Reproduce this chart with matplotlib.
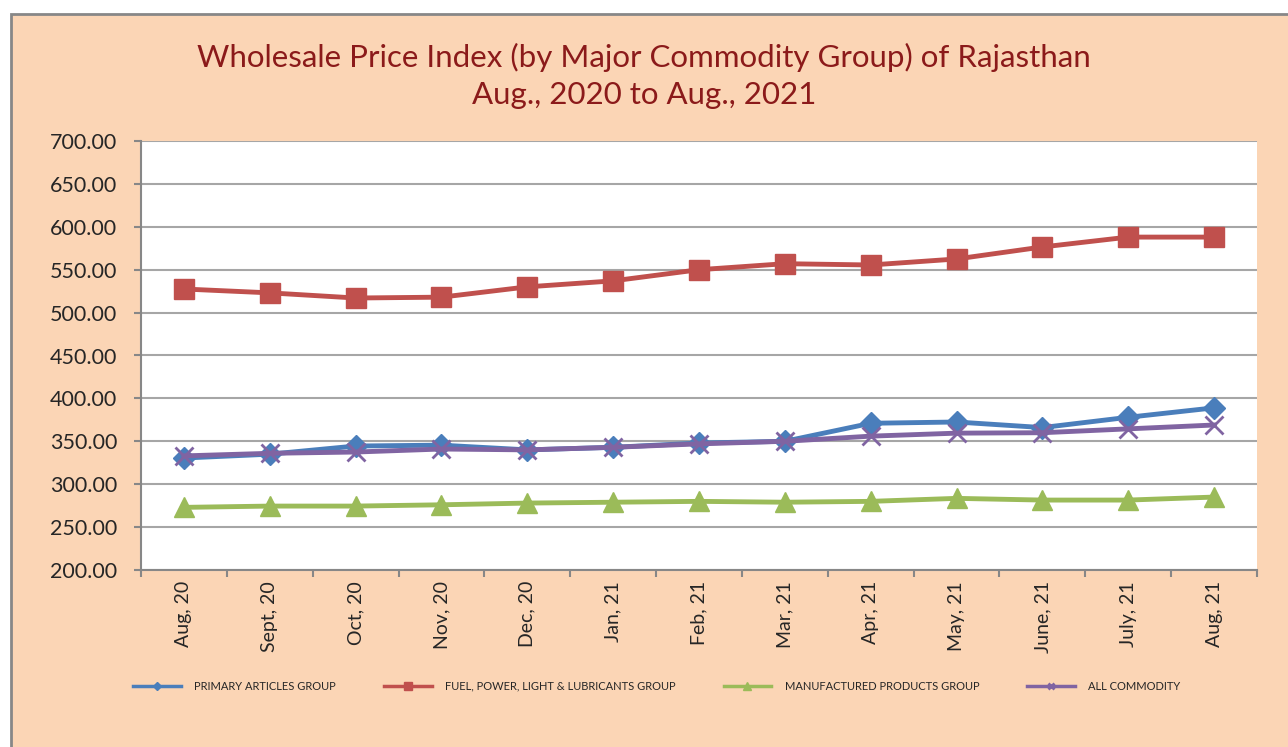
import numpy as np
import matplotlib.pyplot as plt
from matplotlib.patches import Rectangle

months = ['Aug, 20', 'Sept, 20', 'Oct, 20', 'Nov, 20', 'Dec, 20', 'Jan, 21', 'Feb, 21',
          'Mar, 21', 'Apr, 21', 'May, 21', 'June, 21', 'July, 21', 'Aug, 21']
primary = [330.5, 335.0, 344.5, 345.5, 340.0, 343.0, 348.0, 350.0, 371.0, 372.5, 366.0, 378.0, 389.0]
fuel = [527.5, 523.0, 517.0, 518.0, 530.0, 537.0, 550.0, 557.0, 555.5, 562.5, 576.5, 588.0, 588.0]
manufactured = [273.0, 274.5, 274.5, 276.0, 278.0, 279.0, 280.0, 279.0, 280.0, 283.5, 281.5, 281.5, 285.0]
all_commodity = [333.0, 336.0, 337.5, 341.0, 340.0, 343.0, 347.0, 350.0, 356.0, 359.5, 360.0, 364.5, 369.0]
yticks = [200, 250, 300, 350, 400, 450, 500, 550, 600, 650, 700]

plt.rcParams['font.family'] = ['Lato', 'DejaVu Sans']

fig = plt.figure(figsize=(12.88, 7.47), dpi=100, facecolor='white')
fig.patches.append(Rectangle((11 / 1288, -0.1), 1.2, 1 - 14 / 747 + 0.1, transform=fig.transFigure,
                             facecolor='#FBD5B5', edgecolor='#878787', linewidth=2, zorder=0))

ax = fig.add_axes([141 / 1288, 177 / 747, 1116 / 1288, 429 / 747])
ax.set_zorder(2)
ax.set_facecolor('white')
x = np.arange(len(months))

ax.plot(x, fuel, color='#C0504D', lw=3.5, marker='s', ms=15, label='FUEL, POWER, LIGHT & LUBRICANTS GROUP', zorder=3)
ax.plot(x, manufactured, color='#9BBB59', lw=3.5, marker='^', ms=15, label='MANUFACTURED PRODUCTS GROUP', zorder=3)
ax.plot(x, primary, color='#4A7EBB', lw=3.5, marker='D', ms=11, label='PRIMARY ARTICLES GROUP', zorder=3)
ax.plot(x, all_commodity, color='#8064A2', lw=3.5, marker='x', ms=13, mew=2, label='ALL COMMODITY', zorder=4)

ax.set_xlim(-0.5, len(months) - 0.5)
ax.set_ylim(200, 700)
ax.set_yticks(yticks)
ax.set_yticklabels([f'{v:.2f}' for v in yticks], fontsize=15.5, color='#262626')
ax.set_xticks(x)
ax.set_xticklabels(months, rotation=90, fontsize=14, color='#262626')
ax.set_xticks(np.arange(-0.5, len(months)), minor=True)
ax.tick_params(axis='x', which='major', length=0, pad=8)
ax.tick_params(axis='x', which='minor', length=5, color='#878787', width=1.5)
ax.tick_params(axis='y', length=5, color='#878787', width=1.5, pad=12)
ax.grid(axis='y', color='#A6A6A6', lw=1.5)
ax.set_axisbelow(True)
for s in ['top', 'right']:
    ax.spines[s].set_visible(False)
for s in ['left', 'bottom']:
    ax.spines[s].set_color('#878787')
    ax.spines[s].set_linewidth(1.5)

fig.text(0.5, 1 - 57 / 747, 'Wholesale Price Index (by Major Commodity Group) of Rajasthan',
         ha='center', va='center', fontsize=22.5, color='#8B1A1A')
fig.text(0.5, 1 - 95 / 747, 'Aug., 2020 to Aug., 2021',
         ha='center', va='center', fontsize=22.5, color='#8B1A1A')

h, l = ax.get_legend_handles_labels()
order = [2, 0, 1, 3]
leg = fig.legend([h[i] for i in order], [l[i] for i in order], loc='center', ncol=4,
                 bbox_to_anchor=(0.51, 1 - 686 / 747), frameon=False, fontsize=8,
                 handlelength=4.3, handletextpad=1.2, columnspacing=4.3, markerscale=0.35)
for t in leg.get_texts():
    t.set_color('#262626')
for line in leg.get_lines():
    line.set_linewidth(2.5)

fig.savefig('out.png', dpi=100, facecolor='white')
